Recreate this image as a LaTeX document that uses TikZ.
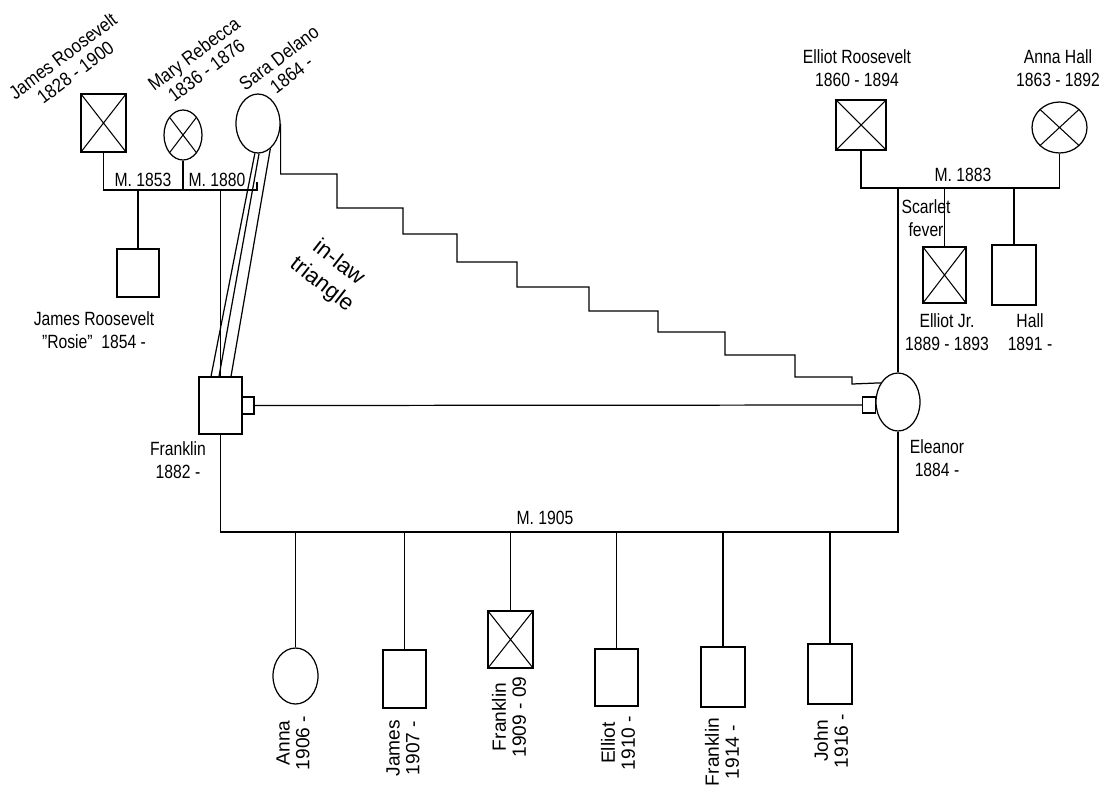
\documentclass[tikz,border=0pt]{standalone}
\usepackage{fontspec}
\setmainfont{Liberation Sans}
\usetikzlibrary{shapes.geometric, calc}

\tikzset{
  wh/.style 2 args={minimum width=#1, minimum height=#2},
}

\begin{document}
\begin{tikzpicture}[
  x=0.02cm, y=-0.02cm,
  line width=0.7pt,
  every node/.style={font=\fontsize{10.9}{13.3}\selectfont},
  person/.style={draw, line width=0.7pt, inner sep=0pt, fill=white},
  male/.style={person, rectangle},
  female/.style={person, ellipse},
  dead/.style={path picture={
    \draw[line width=0.6pt]
      (path picture bounding box.north west) -- (path picture bounding box.south east)
      (path picture bounding box.north east) -- (path picture bounding box.south west);}},
  txt/.style={align=center, inner sep=0pt},
  lbl/.style={txt, xscale=0.82},
  vlbl/.style={txt, rotate=90, font=\fontsize{10.9}{11.3}\selectfont},
  slbl/.style={txt, rotate=37, xscale=0.88, font=\fontsize{10.9}{11.8}\selectfont},
]
\useasboundingbox (0,0) rectangle (1104,789);

%% ---- Roosevelt side ----
\node[male, dead, wh={0.90cm}{1.16cm}] (jamesSr) at (103.5,123) {};
\node[female, dead, wh={0.76cm}{1.00cm}] (maryReb) at (183,135) {};
\node[female, wh={0.88cm}{1.18cm}] (sara) at (258,123.5) {};
\node[male, wh={0.84cm}{0.96cm}] (rosie) at (138,273) {};
\node[male, wh={0.86cm}{1.14cm}] (franklin) at (220.5,405.5) {};
\node[male, wh={0.24cm}{0.34cm}] (franklinTab) at (248,405.5) {};

\node[slbl] (jamesSrLbl) at (69,64) {James Roosevelt\\1828 - 1900};
\node[slbl] (maryRebLbl) at (200,62) {Mary Rebecca\\1836 - 1876};
\node[slbl] (saraLbl) at (285,66) {Sara Delano\\1864 -};
\node[lbl] (rosieLbl) at (94,330) {James Roosevelt\\”Rosie”\ \ 1854 -};
\node[lbl] (franklinLbl) at (178,460) {Franklin\\1882 -};
\node[lbl] (m1853) at (143,180) {M. 1853};
\node[lbl] (m1880) at (217,180) {M. 1880};

\coordinate (bar53) at (104,190);
\coordinate (bar80) at (257,190);
\draw (jamesSr) |- (bar80) -- ++(0,-8);
\draw (maryReb) -- (maryReb |- bar53);
\draw (rosie) -- (rosie |- bar53);
\draw (franklin) -- (franklin |- bar53);

%% ---- Hall side ----
\node[male, dead, wh={1.00cm}{1.00cm}] (elliotSr) at (861,125) {};
\node[female, dead, wh={1.10cm}{1.02cm}] (annaHall) at (1059.5,127.5) {};
\node[female, wh={0.88cm}{1.16cm}] (eleanor) at (898,402) {};
\node[male, wh={0.26cm}{0.32cm}] (eleanorTab) at (869,405) {};
\node[male, dead, wh={0.86cm}{1.12cm}] (elliotJr) at (944.5,275) {};
\node[male, wh={0.88cm}{1.20cm}] (hall) at (1014,275) {};

\node[lbl] (elliotSrLbl) at (857,68) {Elliot Roosevelt\\1860 - 1894};
\node[lbl] (annaHallLbl) at (1058,68) {Anna Hall\\1863 - 1892};
\node[lbl] (m1883) at (963,175) {M. 1883};
\node[lbl] (scarletLbl) at (926,218) {Scarlet\\fever};
\node[lbl] (elliotJrLbl) at (947,332) {Elliot Jr.\\1889 - 1893};
\node[lbl] (hallLbl) at (1030,332) {Hall\\1891 -};
\node[lbl] (eleanorLbl) at (937,458) {Eleanor\\1884 -};

\coordinate (bar83) at (0,188);
\draw (elliotSr) |- (annaHall |- bar83) -- (annaHall);
\draw (eleanor) -- (eleanor |- bar83);
\draw (elliotJr) -- (elliotJr |- bar83);
\draw (hall) -- (hall |- bar83);

%% ---- Franklin & Eleanor ----
\draw (franklinTab) -- (eleanorTab);
\draw (sara.-96) -- ($(franklin.north)+(-9.5,0)$);
\draw (sara.-88) -- ($(franklin.north)+(-1.5,0)$);
\draw (sara.-64) -- ($(franklin.north)+(10.5,0)$);
\draw (sara.east) |- (337,174) |- (403,208) |- (457,234) |- (517,262)
  |- (589,287) |- (658,311) |- (725,332) |- (795,355) |- (852,377)
  -- (852,384) -- (eleanor.132);
\node[txt, rotate=-38, font=\fontsize{12.8}{15.5}\selectfont] (inlawLbl) at (330,274) {in-law\\triangle};

%% ---- children, M. 1905 ----
\node[female, wh={0.90cm}{1.12cm}] (anna) at (295.5,676) {};
\node[male, wh={0.86cm}{1.16cm}] (james) at (404.5,679) {};
\node[male, dead, wh={0.90cm}{1.14cm}] (franklinJr) at (510.5,639.5) {};
\node[male, wh={0.86cm}{1.14cm}] (elliot) at (616.5,677.5) {};
\node[male, wh={0.88cm}{1.20cm}] (franklinJr2) at (723,677) {};
\node[male, wh={0.88cm}{1.20cm}] (john) at (830,674) {};

\node[lbl] (m1905) at (545,518) {M. 1905};
\node[vlbl] (annaLbl) at (293,743) {Anna\\1906 -};
\node[vlbl] (jamesLbl) at (403,748) {James\\1907 -};
\node[vlbl] (franklinJrLbl) at (509,717) {Franklin\\1909 - 09};
\node[vlbl] (elliotLbl) at (618,743) {Elliot\\1910 -};
\node[vlbl] (franklinJr2Lbl) at (722,752) {Franklin\\1914 -};
\node[vlbl] (johnLbl) at (831,741) {John\\1916 -};

\coordinate (bar05) at (0,532);
\draw (franklin) |- (eleanor |- bar05) -- (eleanor);
\draw (anna) -- (anna |- bar05);
\draw (james) -- (james |- bar05);
\draw (franklinJr) -- (franklinJr |- bar05);
\draw (elliot) -- (elliot |- bar05);
\draw (franklinJr2) -- (franklinJr2 |- bar05);
\draw (john) -- (john |- bar05);

\end{tikzpicture}
\end{document}
